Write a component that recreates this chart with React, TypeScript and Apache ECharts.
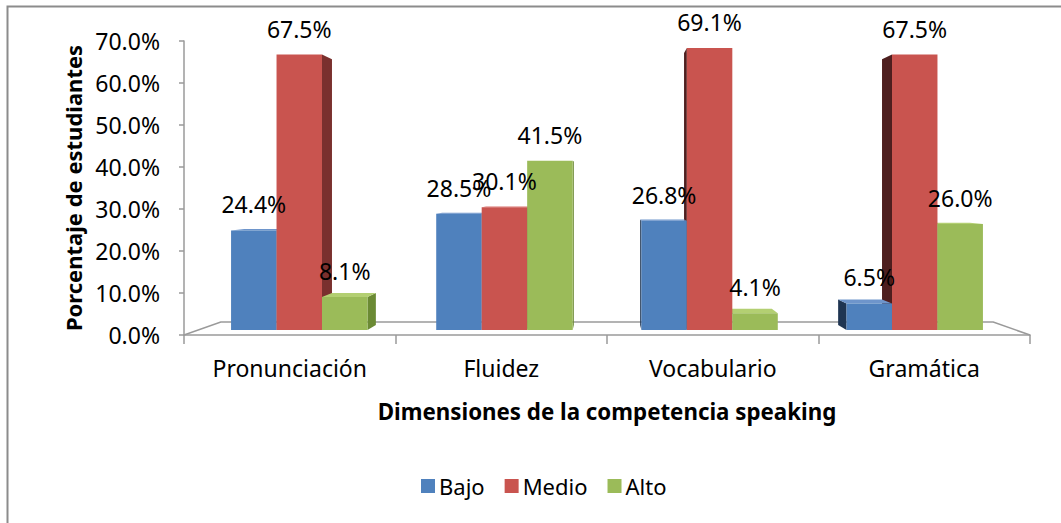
import React, { useEffect, useRef } from "react";
import * as echarts from "echarts";

const categories = ["Pronunciación", "Fluidez", "Vocabulario", "Gramática"];
const bajo = [24.4, 28.5, 26.8, 6.5];
const medio = [67.5, 30.1, 69.1, 67.5];
const alto = [8.1, 41.5, 4.1, 26.0];
const seriesNames = ["Bajo", "Medio", "Alto"];
const seriesValues = [bajo, medio, alto];
const Y_MAX = 70;
const Y_INTERVAL = 10;

const FONT = "'Noto Sans', sans-serif";
const GL = 184;
const GW = 846;
const GT = 41;
const GH = 294;
const BAR_BASE = 330;
const BAR_PX_PER_UNIT = 4.08;

const palette = [
  { front: "#4F81BD", sideR: "#3A5F8C", sideL: "#1F3552", top: "#6E95CB" },
  { front: "#C9544F", sideR: "#7A302E", sideL: "#4E1F1F", top: "#D9706C" },
  { front: "#9BBB59", sideR: "#6B8A34", sideL: "#55702A", top: "#B3CF72" },
];

const K_BAR = 0.035;
const K_FLOOR = 0.087;

export default function App() {
  const ref = useRef<HTMLDivElement>(null);
  useEffect(() => {
    if (!ref.current) return;
    const chart = echarts.init(ref.current, undefined, { renderer: "svg" });
    const VX = GL + GW / 2;
    const VY = 187;
    const front = [
      [GL, GT + GH],
      [GL + GW, GT + GH],
    ];
    const back = front.map(([x, y]) => [x + (VX - x) * K_FLOOR, y + (VY - y) * K_FLOOR]);

    const makeSeries = (sIdx: number) => ({
      type: "custom",
      name: seriesNames[sIdx],
      xAxisIndex: 1,
      yAxisIndex: 1,
      itemStyle: { color: palette[sIdx].front },
      data: seriesValues[sIdx].map((v, i) => [i, v]),
      renderItem: (params: any, api: any) => {
        const ci = api.value(0);
        const v = api.value(1);
        const base = api.coord([ci, 0]);
        const topP = api.coord([ci, v]);
        const bandW = api.size([1, 0])[0];
        const barW = bandW * 0.215;
        const cx = base[0];
        const gc = cx - (cx - VX) * 0.03;
        const x0 = gc + (sIdx - 1.5) * barW;
        const x1 = x0 + barW;
        const yb = base[1];
        const yt = topP[1];
        const bk = (x: number, y: number) => [x + (VX - x) * K_BAR, y + (VY - y) * K_BAR];
        const c = palette[sIdx];
        const children: any[] = [];
        if (x1 < VX) {
          children.push({
            type: "polygon",
            z2: 1,
            shape: { points: [[x1, yt], bk(x1, yt), bk(x1, yb), [x1, yb]] },
            style: { fill: c.sideR },
          });
        } else if (x0 > VX) {
          children.push({
            type: "polygon",
            z2: 1,
            shape: { points: [[x0, yt], bk(x0, yt), bk(x0, yb), [x0, yb]] },
            style: { fill: c.sideL },
          });
        }
        if (yt > VY) {
          children.push({
            type: "polygon",
            z2: 2,
            shape: { points: [[x0, yt], [x1, yt], bk(x1, yt), bk(x0, yt)] },
            style: { fill: c.top },
          });
        }
        children.push({
          type: "rect",
          z2: 10,
          shape: { x: x0, y: yt, width: barW, height: yb - yt },
          style: { fill: c.front },
        });
        children.push({
          type: "text",
          z2: 100,
          x: (x0 + x1) / 2,
          y: yt - 26,
          style: {
            text: v.toFixed(1) + "%",
            fontSize: 23,
            fontFamily: FONT,
            fill: "#000",
            align: "center",
            verticalAlign: "middle",
          },
        });
        return { type: "group", children };
      },
    });

    chart.setOption({
      animation: false,
      backgroundColor: "#fff",
      grid: [
        { left: GL, top: GT, width: GW, height: GH },
        { left: GL, top: BAR_BASE - Y_MAX * BAR_PX_PER_UNIT, width: GW, height: Y_MAX * BAR_PX_PER_UNIT },
      ],
      xAxis: [
        {
          type: "category",
          gridIndex: 0,
          data: categories,
          axisLine: { lineStyle: { color: "#9A9A9A", width: 1.5 } },
          axisTick: { show: true, length: 9, lineStyle: { color: "#9A9A9A", width: 1.5 } },
          axisLabel: { fontSize: 23, fontFamily: FONT, color: "#000", margin: 21 },
          name: "Dimensiones de la competencia speaking",
          nameLocation: "middle",
          nameGap: 65,
          nameTextStyle: { fontSize: 22.3, fontWeight: "bold", fontFamily: FONT, color: "#000" },
        },
        { type: "category", gridIndex: 1, data: categories, show: false },
      ],
      yAxis: [
        {
          type: "value",
          gridIndex: 0,
          min: 0,
          max: Y_MAX,
          interval: Y_INTERVAL,
          axisLine: { show: true, lineStyle: { color: "#9A9A9A", width: 1.5 } },
          axisTick: { show: true, length: 5, lineStyle: { color: "#9A9A9A", width: 1.5 } },
          splitLine: { show: false },
          axisLabel: {
            fontSize: 23,
            fontFamily: FONT,
            color: "#000",
            margin: 24,
            formatter: (v: number) => v.toFixed(1) + "%",
          },
          name: "Porcentaje de estudiantes",
          nameLocation: "middle",
          nameRotate: 90,
          nameGap: 99,
          nameTextStyle: { fontSize: 22, fontWeight: "bold", fontFamily: FONT, color: "#000" },
        },
        { type: "value", gridIndex: 1, min: 0, max: Y_MAX, show: false, splitLine: { show: false } },
      ],
      legend: {
        data: seriesNames,
        left: 416,
        top: 470,
        icon: "rect",
        itemWidth: 14,
        itemHeight: 14,
        itemGap: 20,
        itemStyle: { borderWidth: 0 },
        textStyle: { fontSize: 22, fontFamily: FONT, color: "#000", padding: [0, 0, 0, -1] },
      },
      graphic: [
        {
          type: "rect",
          shape: { x: 7.5, y: 6.5, width: 1200, height: 700 },
          style: { fill: "none", stroke: "#8C8C8C", lineWidth: 2 },
          silent: true,
        },
        {
          type: "polyline",
          shape: { points: [front[0], back[0], back[1], front[1]] },
          style: { fill: "none", stroke: "#9A9A9A", lineWidth: 1.5 },
          silent: true,
          z: 0,
        },
      ],
      series: [makeSeries(0), makeSeries(1), makeSeries(2)],
    });
    return () => chart.dispose();
  }, []);
  return (
    <div
      ref={ref}
      style={{ position: "fixed", left: 0, top: 0, width: 1061, height: 523, background: "#fff" }}
    />
  );
}
